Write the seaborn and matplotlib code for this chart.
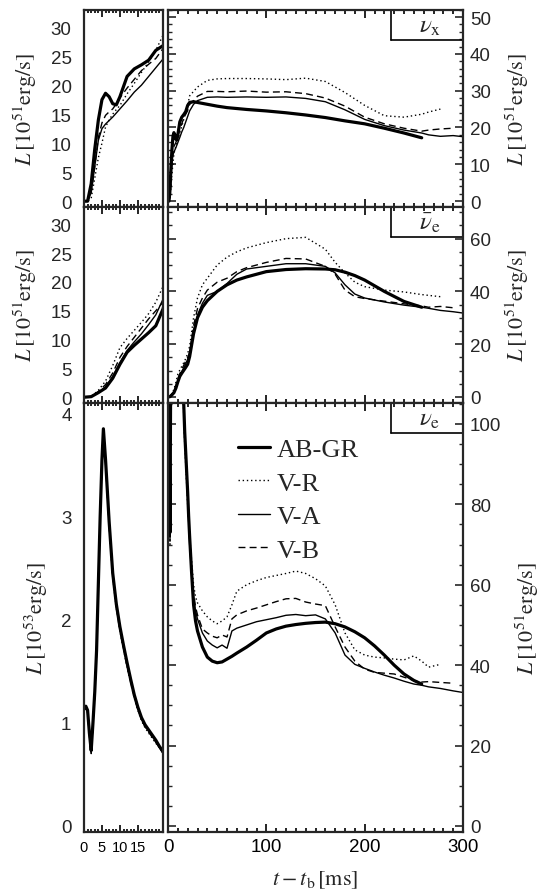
import matplotlib
import matplotlib.pyplot as plt
import numpy as np
import seaborn as sns
from matplotlib.lines import Line2D
from matplotlib.ticker import MultipleLocator

matplotlib.use("Agg")

nan = np.nan

MODELS = ["AB-GR", "V-R", "V-A", "V-B"]

# nu_x time grid [ms]
T_X = [0, 1, 2, 3, 4, 5, 6, 7, 8, 9, 10, 12, 14, 16, 18, 20, 22, 26, 30, 40,
       50, 60, 80, 100, 120, 140, 160, 180, 200, 220, 240, 258, 265, 277, 290, 300]

# nu_x luminosity [1e51 erg/s]
NUX_ABGR = [0, 0, 3, 9, 14, 17.5, 18.6, 18, 16.8, 16.6, 18, 21.5, 22.8, 23.5, 24.3, 26, 26.8, 27.0, 26.8, 26.3,
            25.8, 25.4, 24.9, 24.5, 24.0, 23.4, 22.7, 21.8, 21.0, 19.8, 18.5, 17.2, nan, nan, nan, nan]
NUX_VR = [0, 0, 0.5, 4, 7.5, 10, 12.8, 14, 15, 15.8, 16.5, 18.5, 20.3, 22.2, 24, 26, 28.6, 29.8, 31, 32.8,
          33.2, 33.3, 33.3, 33.2, 33.0, 33.4, 32.5, 29.5, 26.0, 23.2, 22.8, 23.6, 24.2, 25, nan, nan]
NUX_VA = [0, 0, 1.5, 6, 10.5, 12.5, 13.3, 13.9, 14.5, 15.2, 15.9, 17.3, 18.8, 20, 21.5, 23, 24.5, 26.3, 27.3, 28.2,
          28.3, 28.2, 28.3, 28.2, 28.3, 27.9, 27.0, 24.8, 22.2, 20.5, 19.3, 18.5, 18.0, 17.6, 17.8, 17.5]
NUX_VB = [0, 0, 1.5, 6, 11, 13.5, 14.8, 15.4, 15.9, 16.8, 17.8, 19.5, 21, 22.5, 23.6, 24.6, 26.3, 27.3, 28.5, 29.8,
          29.8, 29.7, 29.9, 29.6, 29.7, 29.2, 28.0, 25.8, 22.8, 21.0, 19.8, 19.0, 19.3, 19.6, 19.8, nan]

# anti-nu_e time grid [ms] and luminosity [1e51 erg/s]
T_A = [0, 2, 4, 6, 8, 10, 12, 14, 16, 18, 20, 22, 26, 30, 35, 40, 50, 60, 70, 80,
       100, 120, 140, 160, 170, 180, 190, 200, 220, 240, 258, 265, 277, 290, 300]
NUA_ABGR = [0, 0.1, 0.8, 1.6, 3.3, 5.7, 7.8, 9.0, 10.1, 11.2, 12.4, 15.3, 24, 30, 34, 36.5, 40, 42.5, 44.3, 45.5,
            47.5, 48.3, 48.6, 48.5, 48.2, 47.3, 46.0, 44.3, 40, 36.2, 34, nan, nan, nan, nan]
NUA_VR = [0, 0.1, 1.2, 2.8, 5.5, 8.6, 10.2, 11.6, 13.0, 14.5, 16.5, 19.2, 30, 37.5, 42.5, 45, 50, 53, 55, 56.5,
          58.5, 60, 60.5, 56, 51, 47, 43.5, 41.8, 40.5, 39.8, 38.8, 38.5, 38, nan, nan]
NUA_VA = [0, 0.1, 0.8, 1.8, 3.6, 6.0, 8.1, 9.6, 11.0, 12.6, 14.3, 17.0, 25, 31, 35.5, 38.5, 40, 43, 46.5, 48.5,
          49.5, 50.5, 50.5, 49.5, 47, 42.5, 39, 37.5, 36, 34.8, 34, 33.6, 32.8, 32.3, 31.8]
NUA_VB = [0, 0.1, 1.0, 2.2, 4.2, 6.9, 8.8, 10.4, 12.0, 13.6, 15.0, 16.5, 27, 33.5, 37.5, 40.5, 43.5, 45, 47.5, 49,
          51, 52.5, 52.3, 49.5, 46.5, 40.5, 38, 37.3, 36.3, 35.3, 34.5, 34, 34.3, 33.8, nan]

# nu_e time grid [ms] and luminosity [1e51 erg/s]
T_E = [0, 0.5, 1, 1.5, 2, 2.5, 3, 3.5, 4, 4.5, 5, 5.4, 6, 7, 8, 9, 10, 11, 12, 13,
       14, 15, 16, 17, 18, 19, 20, 21, 22, 24, 26, 28, 30, 35, 40, 45, 50, 55, 60, 65,
       70, 80, 90, 100, 110, 120, 130, 140, 150, 160, 170, 180, 190, 200, 210, 220, 230, 240, 250, 258,
       265, 277, 290, 300]
NUE_ABGR = [113, 116, 112, 90, 73, 100, 130, 170, 235, 300, 355, 385, 355, 295, 245, 215, 193, 175, 158, 142,
            127, 115, 105, 98, 93, 88, 83, 77, 72, 63, 55, 51, 48.5, 44.5, 42, 41, 40.6, 40.8, 41.5, 42.2,
            43, 44.5, 46.2, 48, 49, 49.7, 50.1, 50.4, 50.6, 50.7, 50.3, 49.5, 48.3, 46.8, 44.8, 42.5, 40, 37.8, 36.2, 35.3,
            nan, nan, nan, nan]
NUE_VR = [112, 115, 110, 88, 70, 98, 128, 168, 232, 297, 352, 382, 352, 291, 241, 211, 189, 171, 154, 138,
          124, 112, 102, 95, 90, 85, 80, 76, 72, 66, 60, 57, 55.5, 53.5, 52, 51, 50.3, 51, 52, 55,
          58.4, 60, 61, 61.8, 62.3, 62.8, 63.4, 62.8, 61.5, 59.7, 55, 48, 43.8, 42.5, 42, 41.8, 41.5, 41.3, 42.3, 41,
          39.5, 40.2, nan, nan]
NUE_VA = [113, 116, 111, 89, 72, 99, 129, 169, 234, 299, 354, 384, 354, 294, 244, 214, 192, 174, 157, 141,
          126, 114, 104, 97, 92, 87, 82, 76, 70, 63, 57, 53.5, 51.5, 48, 46, 45, 44.3, 45, 44.2, 48.5,
          49.2, 50, 50.8, 51.3, 51.8, 52.4, 52.6, 52.3, 52.5, 51.5, 48, 42.5, 40.2, 39.2, 38.3, 37.5, 36.8, 36, 35.3, 35,
          34.6, 34.2, 33.6, 33.2]
NUE_VB = [112, 115, 111, 89, 71, 99, 129, 169, 233, 298, 353, 383, 353, 292, 242, 212, 190, 172, 155, 139,
          125, 113, 103, 96, 91, 86, 81, 76, 71, 64, 58, 54.5, 52.5, 49, 48, 47.2, 46.8, 47.5, 47, 51.5,
          52.5, 53.5, 54.2, 55, 55.8, 56.5, 56.6, 55.7, 55.2, 54.8, 49.5, 44.5, 41, 39, 38.2, 38, 37.8, 37, 36.2, 35.8,
          35.9, 35.7, 35.5, nan]

STYLE = {
    "AB-GR": dict(linewidth=2.3, linestyle="-"),
    "V-R":   dict(linewidth=1.0, linestyle=(0, (1, 2))),
    "V-A":   dict(linewidth=1.0, linestyle="-"),
    "V-B":   dict(linewidth=1.0, linestyle=(0, (5, 3))),
}

sns.set_style("ticks")
plt.rcParams["font.family"] = ["Liberation Sans", "DejaVu Sans"]
plt.rcParams["mathtext.fontset"] = "stix"
plt.rcParams["axes.linewidth"] = 1.6

W, H = 541, 895
fig = plt.figure(figsize=(W / 100, H / 100), dpi=100)


def frac(x0, y0, x1, y1):
    # pixel box -> figure coords
    return [x0 / W, 1 - y1 / H, (x1 - x0) / W, (y1 - y0) / H]


rows = [
    dict(t=T_X, data=[NUX_ABGR, NUX_VR, NUX_VA, NUX_VB], scale=1, top=10.7, bot=208,
         lylim=(-1, 33), lmaj=5, rylim=(-1.6, 52), rmaj=10, rmin=2,
         flav=r"$\nu_\mathrm{x}$", lexp="51"),
    dict(t=T_A, data=[NUA_ABGR, NUA_VR, NUA_VA, NUA_VB], scale=1, top=208, bot=404,
         lylim=(-1, 33), lmaj=5, rylim=(-2.3, 72), rmaj=20, rmin=5,
         flav=r"$\bar{\nu}_\mathrm{e}$", lexp="51"),
    dict(t=T_E, data=[NUE_ABGR, NUE_VR, NUE_VA, NUE_VB], scale=0.01, top=404, bot=833,
         lylim=(-0.06, 4.1), lmaj=1, rylim=(-1.5, 105.2), rmaj=20, rmin=5,
         flav=r"$\nu_\mathrm{e}$", lexp="53"),
]

tick_kw = dict(direction="in", top=True, bottom=True, colors="k", width=1.2)

for i, row in enumerate(rows):
    last = i == len(rows) - 1
    axl = fig.add_axes(frac(84, row["top"], 163, row["bot"]))
    axr = fig.add_axes(frac(168, row["top"], 463, row["bot"]))
    t = np.array(row["t"], dtype=float)
    for name, vals in zip(MODELS, row["data"]):
        v = np.array(vals, dtype=float)
        ok = ~np.isnan(v)
        sns.lineplot(x=t[ok], y=v[ok] * row["scale"], ax=axl, color="k",
                     estimator=None, sort=False, **STYLE[name])
        sns.lineplot(x=t[ok], y=v[ok], ax=axr, color="k", label=name if last else None,
                     estimator=None, sort=False, **STYLE[name])

    # left panel: first ~22 ms
    axl.set_xlim(0, 22)
    axl.set_ylim(*row["lylim"])
    axl.set_xticks([0, 5, 10, 15])
    axl.xaxis.set_minor_locator(MultipleLocator(1))
    axl.yaxis.set_major_locator(MultipleLocator(row["lmaj"]))
    axl.tick_params(axis="x", which="major", length=5, labelsize=10.5, pad=6,
                    labelbottom=last, **tick_kw)
    axl.tick_params(axis="x", which="minor", length=2.5, **tick_kw)
    axl.tick_params(axis="y", length=0, labelsize=13.5, pad=9)
    axl.set_ylabel(r"$L\,[10^{%s}\mathrm{erg/s}]$" % row["lexp"], fontsize=16, labelpad=8)
    axl.set_xlabel("")

    # right panel: full run
    axr.set_xlim(0, 300)
    axr.set_ylim(*row["rylim"])
    axr.xaxis.set_major_locator(MultipleLocator(100))
    axr.xaxis.set_minor_locator(MultipleLocator(10))
    axr.yaxis.set_major_locator(MultipleLocator(row["rmaj"]))
    axr.yaxis.set_minor_locator(MultipleLocator(row["rmin"]))
    axr.tick_params(axis="x", which="major", length=6, labelsize=13.5, pad=4,
                    labelbottom=last, **tick_kw)
    axr.tick_params(axis="x", which="minor", length=3, **tick_kw)
    axr.tick_params(axis="y", which="major", direction="in", left=True, right=True,
                    labelleft=False, labelright=True, length=6, width=1.2, labelsize=13.5, pad=5)
    axr.tick_params(axis="y", which="minor", direction="in", left=True, right=True,
                    length=3, width=1.0)
    axr.set_ylim(*row["rylim"])
    axr.yaxis.set_label_position("right")
    axr.set_ylabel(r"$L\,[10^{51}\mathrm{erg/s}]$", fontsize=16, labelpad=9)
    axr.set_xlabel("")

    # flavour tag box in the upper right corner
    box_y = 1 - 30 / (row["bot"] - row["top"])
    box_x = (391 - 168) / 295
    axr.add_line(Line2D([box_x, box_x], [box_y, 1], transform=axr.transAxes, color="k", lw=1.2))
    axr.add_line(Line2D([box_x, 1], [box_y, box_y], transform=axr.transAxes, color="k", lw=1.2))
    axr.text((box_x + 1) / 2 + 0.01, (box_y + 1) / 2, row["flav"], transform=axr.transAxes,
             ha="center", va="center", fontsize=18)

    if last:
        axr.set_xlabel(r"$t - t_\mathrm{b}\,[\mathrm{ms}]$", fontsize=16, labelpad=10)
        axr.legend(loc="upper left", bbox_to_anchor=(0.194, 0.95), frameon=False,
                   borderpad=0, handlelength=1.2, handletextpad=0.25, labelspacing=0.38,
                   prop={"family": "Liberation Serif", "size": 19})
    else:
        leg = axr.get_legend()
        if leg:
            leg.remove()

fig.savefig("out.png", dpi=100)
